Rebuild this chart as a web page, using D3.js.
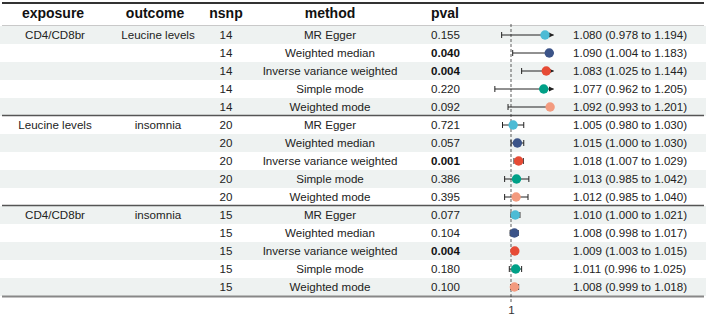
<!DOCTYPE html>
<html><head><meta charset="utf-8">
<script src="https://cdn.jsdelivr.net/npm/d3@7"></script>
<style>body{margin:0;background:#fff;} svg{display:block;font-family:"Liberation Sans",Arial,sans-serif;}</style>
</head><body>
<script>
const exposures = ["CD4/CD8br","","","","","Leucine levels","","","","","CD4/CD8br","","","",""];
const outcomes = ["Leucine levels","","","","","insomnia","","","","","insomnia","","","",""];
const nsnp = [14,14,14,14,14,20,20,20,20,20,15,15,15,15,15];
const methods = ["MR Egger","Weighted median","Inverse variance weighted","Simple mode","Weighted mode",
                 "MR Egger","Weighted median","Inverse variance weighted","Simple mode","Weighted mode",
                 "MR Egger","Weighted median","Inverse variance weighted","Simple mode","Weighted mode"];
const pvals = ["0.155","0.040","0.004","0.220","0.092","0.721","0.057","0.001","0.386","0.395","0.077","0.104","0.004","0.180","0.100"];
const orVals = [1.080,1.090,1.083,1.077,1.092,1.005,1.015,1.018,1.013,1.012,1.010,1.008,1.009,1.011,1.008];
const loVals = [0.978,1.004,1.025,0.962,0.993,0.980,1.000,1.007,0.985,0.985,1.000,0.998,1.003,0.996,0.999];
const hiVals = [1.194,1.183,1.144,1.205,1.201,1.030,1.030,1.029,1.042,1.040,1.021,1.017,1.015,1.025,1.018];
const headers = ["exposure","outcome","nsnp","method","pval"];
const xTicks = [1];
const methodColors = {"MR Egger":"#4DBBD5","Weighted median":"#3C5488","Inverse variance weighted":"#E64B35","Simple mode":"#00A087","Weighted mode":"#F39B7F"};

const W = 706, H = 317;
const svg = d3.select("body").append("svg").attr("width", W).attr("height", H);
const top0 = 26, rowH = 18;
const y = i => top0 + i*rowH;
const xs = d3.scaleLinear().domain([0.95, 1.10]).range([489.75, 553.5]);
const fmt = d3.format(".3f");
const FS = 11.6;

// row backgrounds
svg.selectAll("rect.bg").data(d3.range(15)).join("rect")
  .attr("x", 0).attr("y", i => y(i)).attr("width", W).attr("height", rowH)
  .attr("fill", i => i % 2 === 0 ? "#eef2f1" : "#ffffff");

// header
const colX = {exposure:53, outcome:155, nsnp:226, method:330, pval:431};
svg.selectAll("text.h").data(headers).join("text")
  .attr("x", d => colX[d]).attr("y", 18)
  .attr("text-anchor", d => d === "pval" ? "start" : "middle")
  .attr("font-size", 14).attr("font-weight", "bold").attr("fill", "#111").text(d => d);

// lines
svg.append("line").attr("x1",2).attr("x2",704).attr("y1",3).attr("y2",3).attr("stroke","#333").attr("stroke-width",2);
svg.append("line").attr("x1",2).attr("x2",704).attr("y1",25.5).attr("y2",25.5).attr("stroke","#bbb").attr("stroke-width",0.8);
[5,10].forEach(k => svg.append("line").attr("x1",2).attr("x2",704).attr("y1",y(k)-0.5).attr("y2",y(k)-0.5).attr("stroke","#555").attr("stroke-width",1.3));
svg.append("line").attr("x1",2).attr("x2",704).attr("y1",y(15)+0.5).attr("y2",y(15)+0.5).attr("stroke","#888").attr("stroke-width",2);

// dashed reference line
svg.append("line").attr("x1", xs(1)).attr("x2", xs(1)).attr("y1", 24).attr("y2", y(15)+7)
  .attr("stroke","#333").attr("stroke-width",0.8).attr("stroke-dasharray","3,2");

// axis
const axis = d3.axisBottom(xs).tickValues(xTicks).tickFormat(d3.format("d")).tickSize(0).tickPadding(0);
const ag = svg.append("g").attr("transform", `translate(0,${y(15)+10})`).call(axis);
ag.select(".domain").remove();
ag.selectAll("text").attr("font-size", FS).attr("fill","#333").attr("font-family","Liberation Sans, Arial, sans-serif");

// body text
const rows = d3.range(15);
const tcol = (arr, x, anchor, extra) => svg.append("g").selectAll("text").data(rows).join("text")
  .attr("x", x).attr("y", i => y(i) + rowH/2 + 4.2).attr("text-anchor", anchor)
  .attr("font-size", FS).attr("fill", "#222").text(i => arr[i]).call(s => extra && extra(s));
tcol(exposures, 55, "middle");
tcol(outcomes, 158, "middle");
tcol(nsnp, 226, "middle");
tcol(methods, 330, "middle");
tcol(pvals, 431, "start", s => s.attr("font-weight", i => +pvals[i] < 0.05 ? "bold" : "normal").attr("fill", i => +pvals[i] < 0.05 ? "#111" : "#222"));
tcol(rows.map(i => `${fmt(orVals[i])} (${fmt(loVals[i])} to ${fmt(hiVals[i])})`), 573, "start");

// arrow marker
svg.append("defs").append("marker").attr("id","arr").attr("viewBox","0 0 10 10").attr("refX",9).attr("refY",5)
  .attr("markerWidth",5.5).attr("markerHeight",5.5).attr("orient","auto")
  .append("path").attr("d","M0,0L10,5L0,10z").attr("fill","#222");

const [dMin, dMax] = xs.domain();
const ci = svg.append("g");
rows.forEach(i => {
  const cy = y(i) + rowH/2;
  const lo = Math.max(loVals[i], dMin), hi = Math.min(hiVals[i], dMax);
  const ln = ci.append("line").attr("x1", xs(lo)).attr("x2", xs(hi)).attr("y1", cy).attr("y2", cy)
    .attr("stroke", "#222").attr("stroke-width", 1);
  if (hiVals[i] > dMax) ln.attr("marker-end","url(#arr)");
  else ci.append("line").attr("x1", xs(hi)).attr("x2", xs(hi)).attr("y1", cy-3).attr("y2", cy+3).attr("stroke","#222");
  if (loVals[i] >= dMin) ci.append("line").attr("x1", xs(lo)).attr("x2", xs(lo)).attr("y1", cy-3).attr("y2", cy+3).attr("stroke","#222");
});
svg.append("g").selectAll("circle").data(rows).join("circle")
  .attr("cx", i => xs(orVals[i])).attr("cy", i => y(i) + rowH/2).attr("r", 4.7)
  .attr("fill", i => methodColors[methods[i]]);
</script>
</body></html>
